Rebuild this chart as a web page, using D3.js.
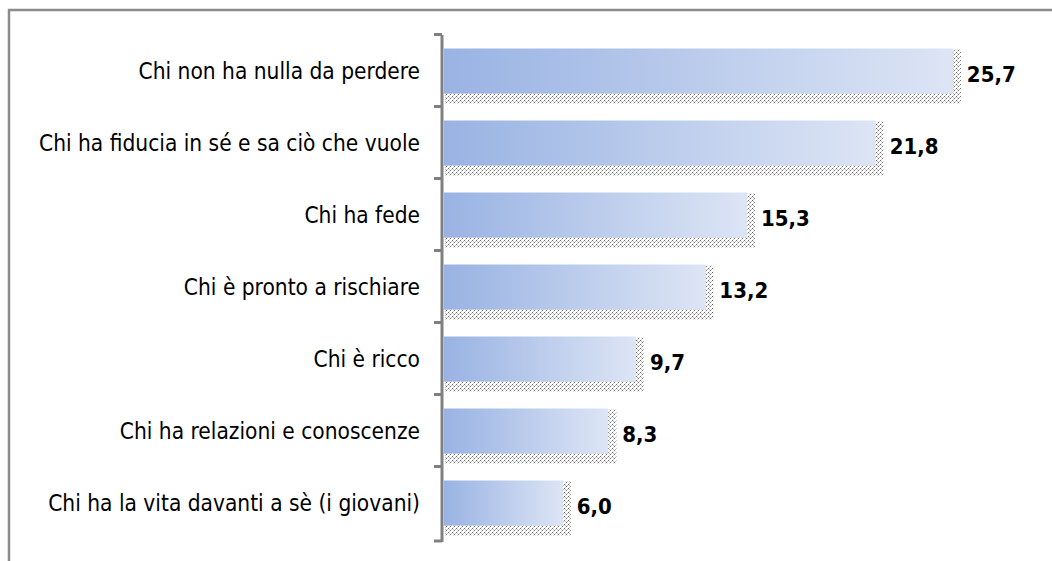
<!DOCTYPE html>
<html>
<head>
<meta charset="utf-8">
<script src="https://cdn.jsdelivr.net/npm/d3@7"></script>
<style>
  body { margin: 0; background: #fff; }
  svg { display: block; }
</style>
</head>
<body>
<div id="chart"></div>
<script>
// data
var categories = [
  "Chi non ha nulla da perdere",
  "Chi ha fiducia in sé e sa ciò che vuole",
  "Chi ha fede",
  "Chi è pronto a rischiare",
  "Chi è ricco",
  "Chi ha relazioni e conoscenze",
  "Chi ha la vita davanti a sè (i giovani)"
];
var values = [25.7, 21.8, 15.3, 13.2, 9.7, 8.3, 6.0];

var W = 1052, H = 561;
var axisX = 442, yTop = 35, yBottom = 539, x0 = 444;

var x = d3.scaleLinear().domain([0, 10]).range([x0, x0 + 198]);
var y = d3.scaleBand().domain(categories).range([yTop, yBottom]).paddingInner(0.375).paddingOuter(0.1875);

var svg = d3.select("#chart").append("svg")
    .attr("width", W)
    .attr("height", H);

var defs = svg.append("defs");
var grad = defs.append("linearGradient")
    .attr("id", "barGrad")
    .attr("x1", "0").attr("y1", "0").attr("x2", "1").attr("y2", "0");
grad.append("stop").attr("offset", "0").attr("stop-color", "#99b3e3");
grad.append("stop").attr("offset", "1").attr("stop-color", "#dde5f5");

var pattern = defs.append("pattern")
    .attr("id", "shadowPat")
    .attr("x", 0).attr("y", 0)
    .attr("width", 4).attr("height", 4)
    .attr("patternUnits", "userSpaceOnUse");
pattern.append("rect").attr("width", 4).attr("height", 4).attr("fill", "#fff");
[[0,0,"#666"],[2,2,"#777"],[1,1,"#bbb"],[3,1,"#bbb"],[1,3,"#ccc"]].forEach(function (p) {
  pattern.append("rect")
    .attr("x", p[0]).attr("y", p[1])
    .attr("width", 1).attr("height", 1)
    .attr("fill", p[2]);
});

// frame
svg.append("path")
    .attr("d", "M9," + H + " L9,10 L" + W + ",10")
    .attr("fill", "none")
    .attr("stroke", "#8c8c8c")
    .attr("stroke-width", 2.5);

// category axis
var axis = svg.append("g")
    .attr("transform", "translate(" + axisX + ",0)")
    .call(d3.axisLeft(y).tickSize(0).tickFormat(""));
axis.select(".domain").remove();
axis.append("line")
    .attr("x1", 0).attr("x2", 0)
    .attr("y1", yTop).attr("y2", yBottom + 3)
    .attr("stroke", "#808080").attr("stroke-width", 3);
var tickYs = categories.map(function (c) { return y(c) - y.step() * y.paddingInner() / 2 - 0.5; });
tickYs.push(yBottom + 2);
axis.selectAll(".tk")
    .data(tickYs)
    .enter().append("line")
    .attr("class", "tk")
    .attr("x1", -8).attr("x2", 0)
    .attr("y1", function (d) { return d; })
    .attr("y2", function (d) { return d; })
    .attr("stroke", "#808080").attr("stroke-width", 3);

// labels
svg.selectAll(".cat")
    .data(categories)
    .enter().append("text")
    .attr("class", "cat")
    .attr("x", 420)
    .attr("y", function (d) { return y(d) + y.bandwidth() / 2; })
    .attr("dy", "0.35em")
    .attr("text-anchor", "end")
    .attr("font-family", "DejaVu Sans Condensed, DejaVu Sans, sans-serif")
    .attr("font-stretch", "condensed")
    .attr("font-size", 22.5)
    .attr("fill", "#000")
    .text(function (d) { return d; });

var rows = categories.map(function (c, i) { return { cat: c, val: values[i] }; });

// shadows
svg.selectAll(".shadow")
    .data(rows)
    .enter().append("rect")
    .attr("class", "shadow")
    .attr("x", x0 + 1)
    .attr("y", function (d) { return y(d.cat) + 1; })
    .attr("width", function (d) { return x(d.val) - x0 + 7; })
    .attr("height", y.bandwidth() + 9)
    .attr("fill", "url(#shadowPat)");

// bars
svg.selectAll(".bar")
    .data(rows)
    .enter().append("rect")
    .attr("class", "bar")
    .attr("x", x0)
    .attr("y", function (d) { return y(d.cat); })
    .attr("width", function (d) { return x(d.val) - x0; })
    .attr("height", y.bandwidth())
    .attr("fill", "url(#barGrad)");

// value labels
svg.selectAll(".val")
    .data(rows)
    .enter().append("text")
    .attr("class", "val")
    .attr("x", function (d) { return x(d.val) + 14; })
    .attr("y", function (d) { return y(d.cat) + y.bandwidth() / 2 + 3; })
    .attr("dy", "0.35em")
    .attr("font-family", "DejaVu Sans Condensed, DejaVu Sans, sans-serif")
    .attr("font-stretch", "condensed")
    .attr("font-weight", "bold")
    .attr("font-size", 22)
    .attr("fill", "#000")
    .text(function (d) { return d3.format(".1f")(d.val).replace(".", ","); });
</script>
</body>
</html>
